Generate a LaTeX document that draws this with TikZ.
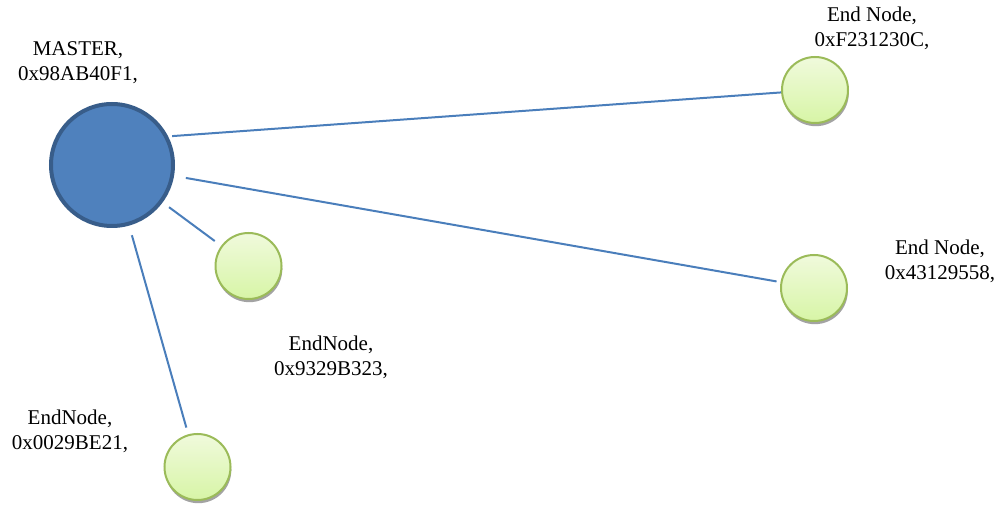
\documentclass[tikz,border=0pt]{standalone}
\usepackage{fontspec}
\setmainfont{Liberation Serif}
\usetikzlibrary{shadows}
\definecolor{masterfill}{HTML}{4F81BD}
\definecolor{masterline}{HTML}{385D8A}
\definecolor{endline}{HTML}{9BBB59}
\definecolor{endtop}{HTML}{F0FADC}
\definecolor{endbot}{HTML}{D7F5A6}
\definecolor{link}{HTML}{4A7EBB}
\tikzset{>=stealth}

\begin{document}
\begin{tikzpicture}[x=0.5pt, y=-0.5pt,
    master/.style={circle, minimum size=61pt, inner sep=0pt, fill=masterfill, draw=masterline, line width=2pt},
    endnode/.style={circle, minimum size=33pt, inner sep=0pt, draw=endline, line width=1pt,
        top color=endtop, bottom color=endbot,
        drop shadow={shadow xshift=0.4pt, shadow yshift=-1.6pt, fill=black!45, opacity=0.8}},
    tag/.style={align=center, font=\fontsize{10.5}{12.5}\selectfont, inner sep=0pt},
    link/.style={draw=link, line width=1pt}]
    \useasboundingbox (0,0) rectangle (1008,507);
    \node[master] (M) at (112,165) {};
    \node[endnode] (A) at (815,90) {};
    \node[endnode] (B) at (814,288) {};
    \node[endnode] (C) at (248.5,266) {};
    \node[endnode] (D) at (197.5,467) {};
    \node[tag] (tM) at (78,63) {MASTER,\\0x98AB40F1,};
    \node[tag] (tA) at (872,28) {End Node,\\0xF231230C,};
    \node[tag] (tB) at (940,261) {End Node,\\0x43129558,};
    \node[tag] (tC) at (331,357) {EndNode,\\0x9329B323,};
    \node[tag] (tD) at (70,431) {EndNode,\\0x0029BE21,};
    \draw[link, shorten <=2pt] (M.27) -- (A);
    \draw[link, shorten <=6pt, shorten >=2pt] (M) -- (B);
    \draw[link, shorten <=4pt, shorten >=4pt] (M) -- (C);
    \draw[link, shorten <=5pt, shorten >=3.5pt] (M) -- (D);
\end{tikzpicture}
\end{document}
